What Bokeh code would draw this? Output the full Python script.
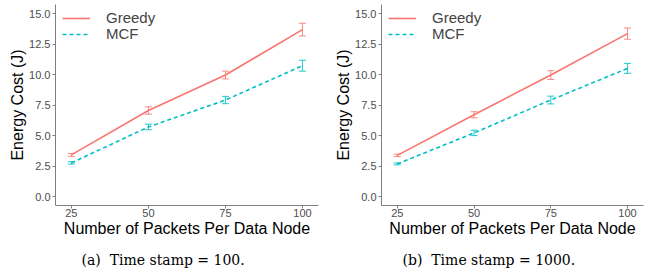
from bokeh.plotting import figure
from bokeh.layouts import row
from bokeh.models import (ColumnDataSource, Whisker, TeeHead, FixedTicker, Range1d,
                          Legend, LegendItem, Title, CustomJSTickFormatter)
from bokeh.embed import file_html
from bokeh.resources import INLINE

packets = [25, 50, 75, 100]
greedy_a = [3.42, 7.06, 9.97, 13.70]
greedy_a_err = [0.12, 0.30, 0.32, 0.52]
mcf_a = [2.76, 5.71, 7.92, 10.74]
mcf_a_err = [0.10, 0.23, 0.30, 0.45]
greedy_b = [3.38, 6.71, 9.97, 13.37]
greedy_b_err = [0.10, 0.25, 0.36, 0.46]
mcf_b = [2.68, 5.22, 7.92, 10.52]
mcf_b_err = [0.08, 0.22, 0.32, 0.41]
y_ticks = [0, 2.5, 5, 7.5, 10, 12.5, 15]
x_ticks = [25, 50, 75, 100]
series_names = ["Greedy", "MCF"]
captions = ["(a)\u00a0 Time stamp = 100.", "(b)\u00a0 Time stamp = 1000."]
x_title = "Number of Packets Per Data Node"
y_title = "Energy Cost (J)"

GREEDY = "#F8766D"
MCF = "#00BFC4"
SANS = "Liberation Sans"
SERIF = "DejaVu Serif"
FRAME_H = 202


def panel(g, ge, m, me, caption, width, left_border, right_border, cap_off):
    p = figure(width=width, height=277, output_backend="svg", toolbar_location=None,
               x_range=Range1d(19.85, 105.2), y_range=Range1d(-0.735, 15.76),
               min_border_left=left_border, min_border_right=right_border,
               min_border_top=4, min_border_bottom=277 - 4 - FRAME_H)
    p.outline_line_color = None
    p.xgrid.visible = False
    p.ygrid.visible = False
    p.background_fill_color = "white"
    p.border_fill_color = "white"

    gsrc = ColumnDataSource(dict(x=packets, y=g,
                                 lo=[v - e for v, e in zip(g, ge)],
                                 hi=[v + e for v, e in zip(g, ge)]))
    msrc = ColumnDataSource(dict(x=packets, y=m,
                                 lo=[v - e for v, e in zip(m, me)],
                                 hi=[v + e for v, e in zip(m, me)]))
    r1 = p.line("x", "y", source=gsrc, line_color=GREEDY, line_width=1.6)
    r2 = p.line("x", "y", source=msrc, line_color=MCF, line_width=1.6, line_dash="4 3")
    for src, c in ((gsrc, GREEDY), (msrc, MCF)):
        w = Whisker(base="x", lower="lo", upper="hi", source=src,
                    line_color=c, line_width=1, line_alpha=0.85,
                    lower_head=TeeHead(size=7, line_color=c, line_width=1, line_alpha=0.85),
                    upper_head=TeeHead(size=7, line_color=c, line_width=1, line_alpha=0.85))
        p.add_layout(w)

    for ax in (p.xaxis[0], p.yaxis[0]):
        ax.axis_line_color = "#7f7f7f"
        ax.axis_line_width = 1
        ax.major_tick_line_color = "#7f7f7f"
        ax.major_tick_out = 3
        ax.major_tick_in = 0
        ax.minor_tick_line_color = None
        ax.major_label_text_font = SANS
        ax.major_label_text_font_size = "11px"
        ax.major_label_text_color = "#4D4D4D"
        ax.axis_label_text_font = SANS
        ax.axis_label_text_font_size = "16px"
        ax.axis_label_text_font_style = "normal"
        ax.axis_label_text_color = "black"
    p.xaxis.major_label_standoff = 0
    p.xaxis.axis_label_standoff = 0
    p.yaxis.major_label_standoff = 2
    p.yaxis.axis_label_standoff = 0
    p.xaxis.ticker = FixedTicker(ticks=x_ticks)
    p.yaxis.ticker = FixedTicker(ticks=y_ticks)
    p.yaxis.formatter = CustomJSTickFormatter(code="return tick.toFixed(1);")
    p.xaxis.axis_label = x_title
    p.yaxis.axis_label = y_title

    # two single-row legends so that the row pitch matches the reference
    for i, r in enumerate((r1, r2)):
        leg = Legend(items=[LegendItem(label=series_names[i], renderers=[r])],
                     location=(7, FRAME_H - 15 - 16 * i - 8),
                     border_line_color=None, background_fill_alpha=0,
                     glyph_width=28, glyph_height=16, label_height=16, label_standoff=16,
                     spacing=0, padding=0, margin=0,
                     label_text_font=SANS, label_text_font_size="15px")
        p.add_layout(leg, "center")

    cap = Title(text=caption, align="left", offset=cap_off, standoff=20,
                text_font=SERIF, text_font_size="14px", text_font_style="normal",
                text_color="black")
    p.add_layout(cap, "below")
    return p


pa = panel(greedy_a, greedy_a_err, mcf_a, mcf_a_err, captions[0], 322, 55, 4, 26)
pb = panel(greedy_b, greedy_b_err, mcf_b, mcf_b_err, captions[1], 323, 59, 2, 21)
layout = row(pa, pb)

open("out.html", "w").write(file_html(layout, INLINE))
